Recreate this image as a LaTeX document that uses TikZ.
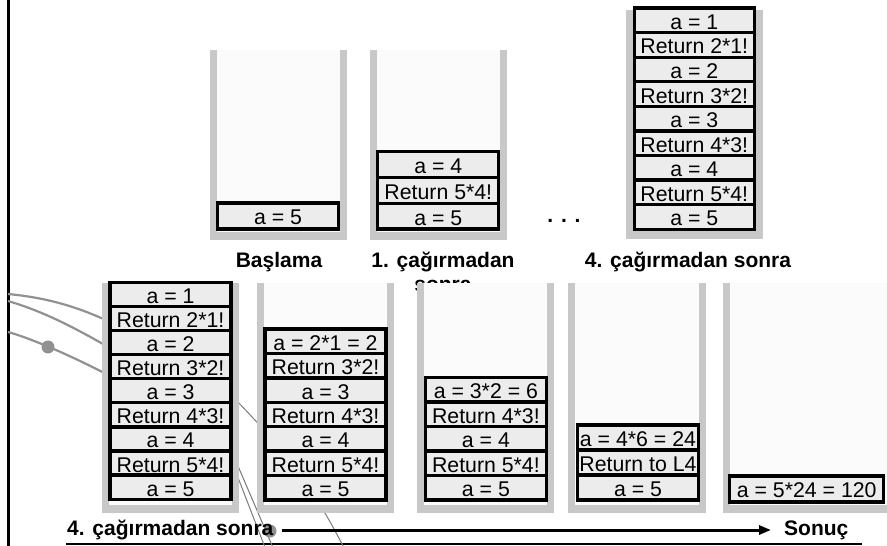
\documentclass[tikz,border=0pt]{standalone}
\usepackage{fontspec}
\setmainfont{Liberation Sans}
\usetikzlibrary{arrows.meta}

\definecolor{wallgray}{RGB}{200,200,200}
\definecolor{hollowgray}{RGB}{251,251,251}
\definecolor{cellgray}{RGB}{236,236,236}
\definecolor{wiregray}{RGB}{145,145,145}

\tikzset{
  wall/.style={fill=wallgray},
  hollow/.style={fill=hollowgray},
  cell/.style={draw, line width=3.3pt, fill=cellgray, inner sep=0pt, anchor=south,
    text height=18pt, text depth=0pt, font=\fontsize{21.3}{23}\selectfont},
  caption/.style={inner sep=0pt, anchor=base, text height=15pt, text depth=5pt,
    font=\fontsize{21}{24}\selectfont\bfseries},
  wire/.style={draw=wiregray, line width=2.2pt},
  thinwire/.style={draw=wiregray!85!black, line width=1pt},
  flow/.style={line width=3pt, -{Triangle[length=12pt, width=9pt]}}
}

\begin{document}
\begin{tikzpicture}[x=1pt, y=-1pt]

  \clip (0,0) rectangle (887,546);

  % slide frame
  \draw[line width=3pt] (8,0) -- (8,546);
  \draw[line width=2.5pt] (66,544) -- (862,544);

  % background curves
  \draw[wire] (8,294) .. controls (50,298) and (80,308) .. (110,322);
  \draw[wire] (8,301) .. controls (45,312) and (75,328) .. (110,348);
  \draw[wire] (8,332) .. controls (30,338) and (70,355) .. (110,376);
  \fill[wiregray] (48,347) circle (6.5);
  \draw[thinwire] (232,396) .. controls (275,440) and (310,480) .. (345,550);
  \draw[thinwire] (232,452) -- (274,550);
  \draw[thinwire] (232,462) -- (266,550);
  \fill[wiregray] (270,531) circle (6.5);

  % captions of the upper row
  \node[caption] (start) at (279,267.5) {Başlama};
  \node[caption, anchor=north, align=center, text height=, text depth=] (first) at (443,252) {1. çağırmadan\\sonra};
  \node[caption] (fourth) at (688,267.5) {4. çağırmadan sonra};
  \node[caption] (dots) at (564,222) {. . .};

  % stack walls
  \foreach \xa/\xb/\ya/\yb in {
    210/347/50/240, 370/507/50/240, 626/763/10/239,
    101.7/239.3/283/513, 257.3/394/283/513, 416.7/554/283/513,
    568.3/706/283/513, 722.7/900/283/513
  } {
    \fill[wall] (\xa,\ya) rectangle (\xb,\yb);
    \fill[hollow] (\xa+7,\ya) rectangle (\xb-7,\yb-8);
  }

  % frames, bottom up
  \foreach \cx/\yb/\h/\w/\cells [count=\s] in {
    278/230.5/26/121/{a = 5},
    438.3/230.5/25.7/121/{a = 5, Return 5*4!, a = 4},
    694.3/230.8/24.56/120/{a = 5, Return 5*4!, a = 4, Return 4*3!, a = 3, Return 3*2!, a = 2, Return 2*1!, a = 1},
    170.5/500.8/24.1/121/{a = 5, Return 5*4!, a = 4, Return 4*3!, a = 3, Return 3*2!, a = 2, Return 2*1!, a = 1},
    325.5/501.5/24.4/121/{a = 5, Return 5*4!, a = 4, Return 4*3!, a = 3, Return 3*2!, a = 2*1 = 2},
    485.9/501.5/24.5/121/{a = 5, Return 5*4!, a = 4, Return 4*3!, a = 3*2 = 6},
    638/501.5/25/121/{a = 5, Return to L4, a = 4*6 = 24},
    806.7/503.5/26/154/{a = 5*24 = 120}
  } {
    \foreach \lab [count=\i from 0] in \cells
      \node[cell, minimum width=\w, minimum height=\h] (s\s-\i) at (\cx,\yb-\i*\h) {\lab};
  }

  % lower row
  \node[caption, anchor=base west] (after) at (67,535) {4. çağırmadan sonra};
  \node[caption, anchor=base west] (result) at (784,535) {Sonuç};
  \draw[flow, shorten <=8pt, shorten >=13pt] (after.east) -- (result.west);

\end{tikzpicture}
\end{document}
